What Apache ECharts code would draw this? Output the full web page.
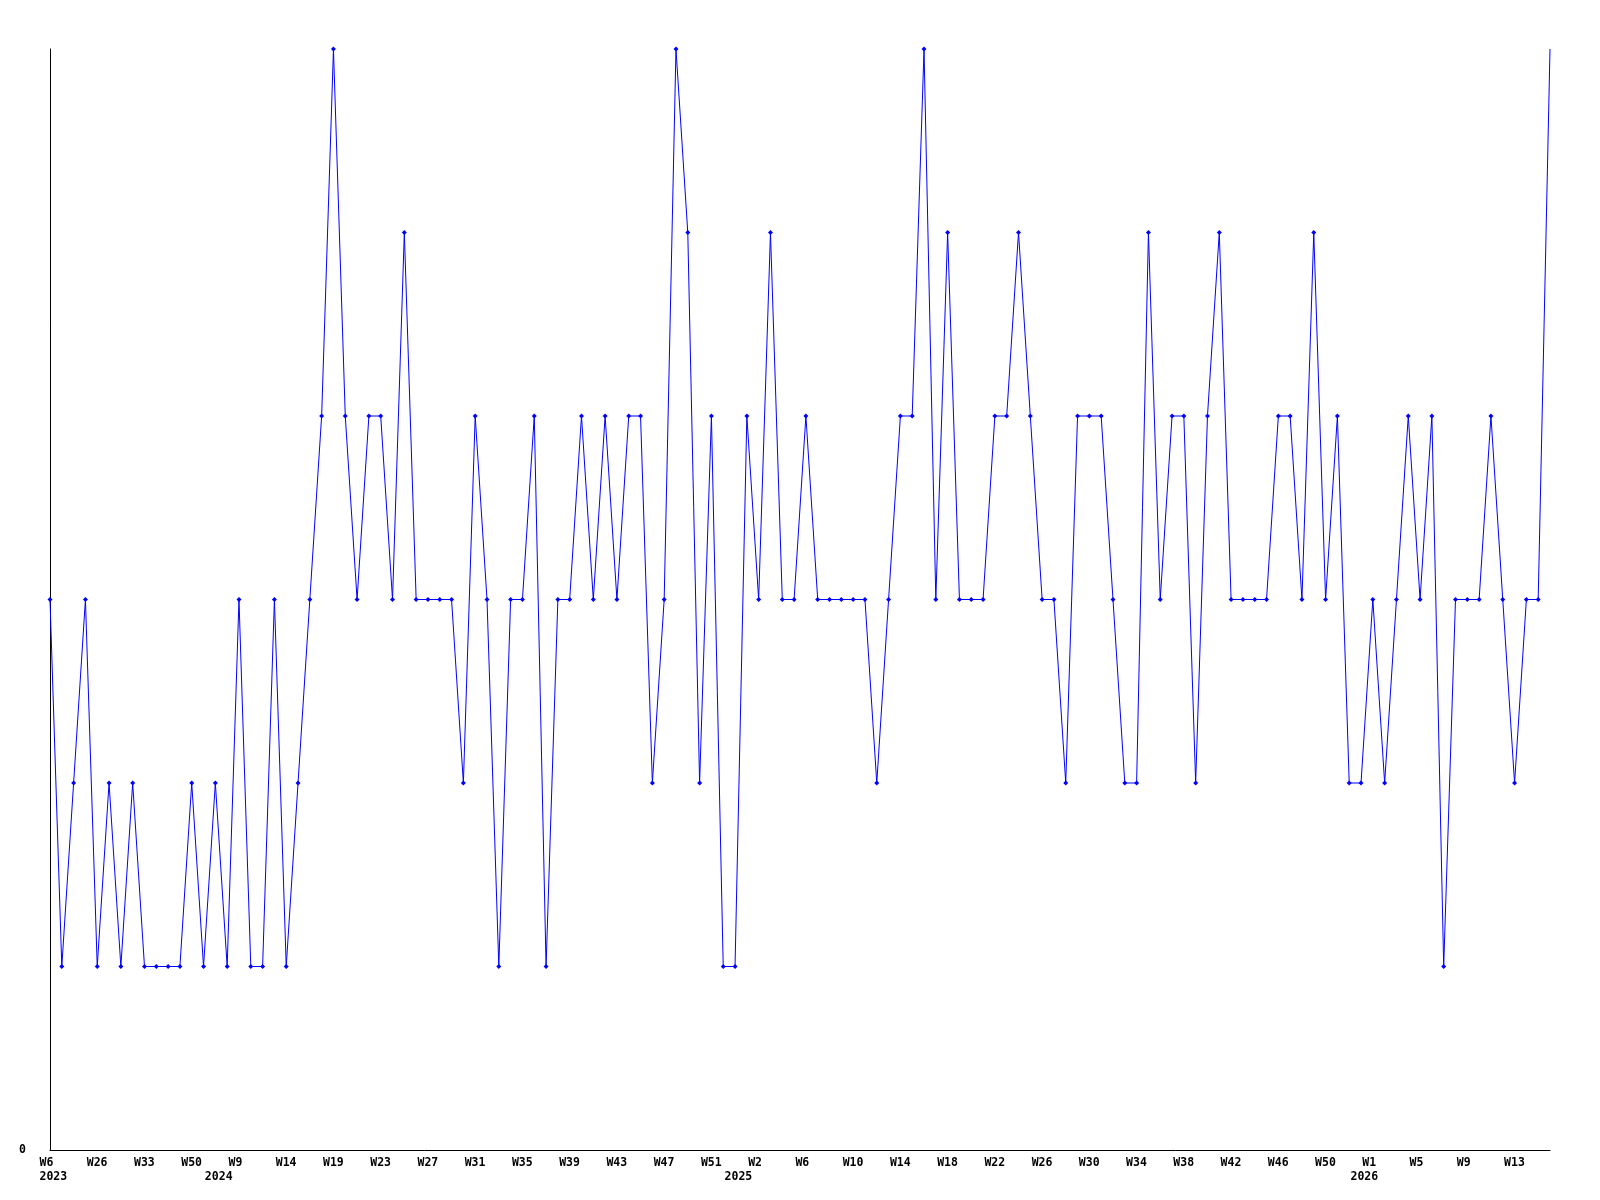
<!DOCTYPE html>
<html>
<head>
<meta charset="utf-8">
<script src="https://cdn.jsdelivr.net/npm/echarts@6/dist/echarts.min.js"></script>
<style>
  html, body { margin: 0; padding: 0; background: #fff; }
  #main { width: 1600px; height: 1200px; }
</style>
</head>
<body>
<div id="main"></div>
<script>
// weekly values, one per data point (128 points)
const values = [
  3, 1, 2, 3, 1, 2, 1, 2, 1, 1, 1, 1, 2, 1, 2,
  1, 3, 1, 1, 3, 1, 2, 3, 4, 6, 4, 3, 4, 4, 3, 5, 3,
  3, 3, 3, 2, 4, 3, 1, 3, 3, 4, 1, 3, 3, 4, 3, 4, 3,
  4, 4, 2, 3, 6, 5, 2, 4, 1, 1, 4, 3, 5, 3, 3, 4, 3,
  3, 3, 3, 3, 2, 3, 4, 4, 6, 3, 5, 3, 3, 3, 4, 4, 5,
  4, 3, 3, 2, 4, 4, 4, 3, 2, 2, 5, 3, 4, 4, 2, 4, 5,
  3, 3, 3, 3, 4, 4, 3, 5, 3, 4, 2, 2, 3, 2, 3, 4, 3,
  4, 1, 3, 3, 3, 4, 3, 2, 3, 3, 6
];

// week tick labels, placed on every 4th point
const weekLabels = [
  "W6", "W26", "W33", "W50",
  "W9", "W14", "W19", "W23", "W27", "W31", "W35", "W39", "W43", "W47", "W51",
  "W2", "W6", "W10", "W14", "W18", "W22", "W26", "W30", "W34", "W38", "W42", "W46", "W50",
  "W1", "W5", "W9", "W13"
];
const weekStep = 4;

// year labels: point index where each year starts
const yearIndex = [0, 14, 58, 111];
const yearNames = ["2023", "2024", "2025", "2026"];

const categories = values.map((v, i) => String(i));

const fontFamily = '"DejaVu Sans Mono", "Liberation Mono", monospace';

let chart = echarts.init(document.getElementById("main"));

function weekOf(i) {
  return i % weekStep === 0 ? weekLabels[i / weekStep] : null;
}
function yearOf(i) {
  const k = yearIndex.indexOf(i);
  return k >= 0 ? yearNames[k] : null;
}

let option = {
  animation: false,
  backgroundColor: "#ffffff",
  grid: { left: 50, right: 50, top: 49, bottom: 50 },
  xAxis: {
    type: "category",
    data: categories,
    boundaryGap: false,
    axisLine: { lineStyle: { color: "#000", width: 1 } },
    axisTick: { show: false },
    splitLine: { show: false },
    axisLabel: {
      margin: 6,
      interval: (index) => weekOf(index) !== null || yearOf(index) !== null,
      formatter: (value, index) => {
        const w = weekOf(index) || " ";
        const y = yearOf(index) || " ";
        return "{w|" + w + "}\n{y|" + y + "}";
      },
      rich: {
        w: { width: 21, align: "left", lineHeight: 14, fontFamily: fontFamily, fontWeight: "bold", fontSize: 11.5, color: "#000" },
        y: { width: 21, align: "left", lineHeight: 14, fontFamily: fontFamily, fontWeight: "bold", fontSize: 11.5, color: "#000" }
      }
    }
  },
  yAxis: {
    type: "value",
    min: 0,
    max: 6,
    interval: 6,
    axisLine: { show: true, lineStyle: { color: "#000", width: 1 } },
    axisTick: { show: false },
    splitLine: { show: false },
    axisLabel: {
      margin: 24,
      showMaxLabel: false,
      formatter: (v) => (v === 0 ? "0" : ""),
      fontFamily: fontFamily,
      fontWeight: "bold",
      fontSize: 11.5,
      color: "#000"
    }
  },
  series: [
    {
      type: "line",
      data: values,
      // the last marker sits on the plot corner and is clipped away in the original
      symbol: (val, params) => (params.dataIndex === values.length - 1 ? "none" : "diamond"),
      symbolSize: 5,
      showAllSymbol: true,
      lineStyle: { color: "#0000ff", width: 1 },
      itemStyle: { color: "#0000ff" },
      emphasis: { disabled: true }
    }
  ]
};

chart.setOption(option);
</script>
</body>
</html>
